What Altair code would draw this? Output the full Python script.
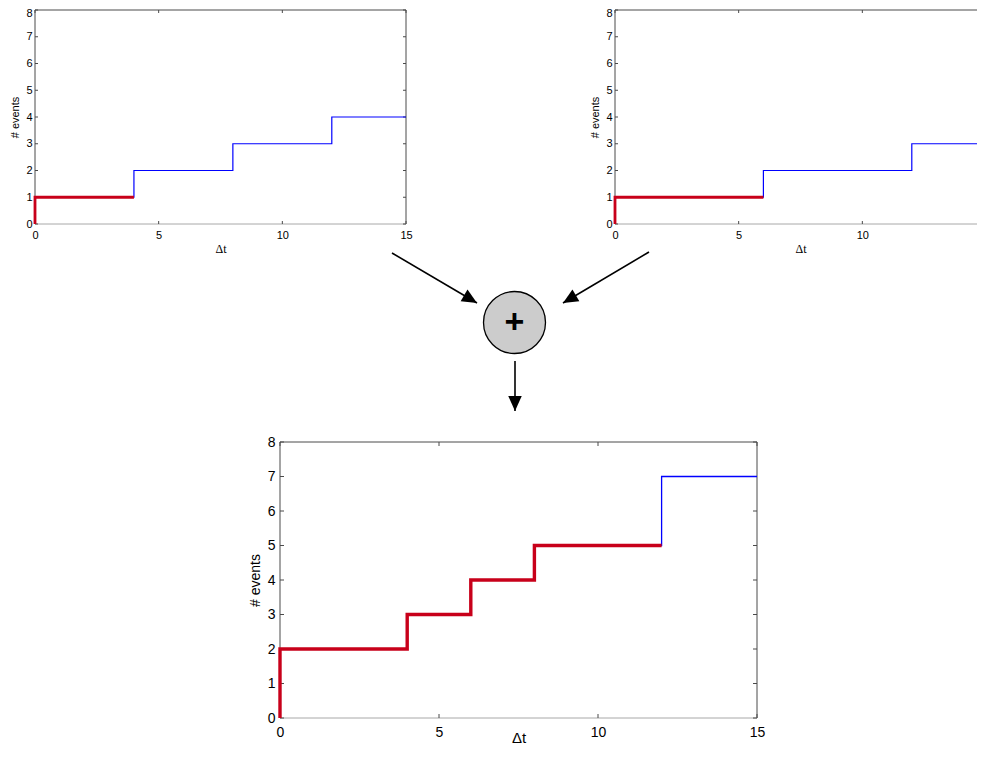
import math
import altair as alt
import pandas as pd

# ---------------- data ----------------
x_domain = [0, 15]
y_domain = [0, 8]
x_ticks = [0, 5, 10, 15]
y_ticks = [0, 1, 2, 3, 4, 5, 6, 7, 8]
x_title = "Δt"
y_title = "# events"

# top-left process
a_blue_t = [0, 0, 4, 8, 12, 15]
a_blue_n = [0, 1, 2, 3, 4, 4]
a_red_t = [0, 0, 4]
a_red_n = [0, 1, 1]
# top-right process
b_blue_t = [0, 0, 6, 12, 15]
b_blue_n = [0, 1, 2, 3, 3]
b_red_t = [0, 0, 6]
b_red_n = [0, 1, 1]
# sum (bottom)
c_blue_t = [0, 0, 4, 6, 8, 12, 15]
c_blue_n = [0, 2, 3, 4, 5, 7, 7]
c_red_t = [0, 0, 4, 6, 8, 12]
c_red_n = [0, 2, 3, 4, 5, 5]

# ---------------- layout / style ----------------
W, H = 969, 738
SANS = "Liberation Sans"
SERIF = "Liberation Serif"
BLUE = "#0000ff"
RED = "#c8001a"
DARK = "#4a4a4a"
LIGHT = "#a8a8a8"

# plot frames in chart pixels: left, right, top, bottom
FRAME_A = (27, 398, 2, 216)
FRAME_B = (607, 978, 2, 216)
FRAME_C = (272, 749, 434, 710)

STYLE_TOP = dict(fs=11, tfont=SERIF, tfs=12, ytfs=11, lpx=5, lpy=3, tpx=3, tpy=5,
                 tick=3, bw=1.2, rw=2.8, top_nudge=3.5)
STYLE_BOT = dict(fs=14, tfont=SANS, tfs=15, ytfs=14, lpx=7, lpy=5, tpx=-9, tpy=5,
                 tick=4, bw=1.3, rw=3.4, top_nudge=0)


def steps(ts, ns):
    return pd.DataFrame({"t": ts, "n": ns, "i": list(range(len(ts)))})


def panel(frame, blue_df, red_df, sty):
    x0, x1, y0, y1 = frame
    ymax_label = y_domain[1]

    def xs():
        return alt.Scale(domain=x_domain, range=[x0, x1], nice=False, zero=False)

    def ys():
        return alt.Scale(domain=y_domain, range=[y1, y0], nice=False, zero=False)

    common = dict(ticks=False, domain=False, grid=False,
                  labelFont=SANS, labelFontSize=sty["fs"], labelColor="#000",
                  labelFlush=False,
                  titleFontWeight="normal", titleColor="#000")
    xaxis = alt.Axis(orient="bottom", offset=y1 - H, values=x_ticks,
                     labelPadding=sty["lpx"], title=x_title,
                     titleFont=sty["tfont"], titleFontSize=sty["tfs"],
                     titlePadding=sty["tpx"], **common)
    yaxis = alt.Axis(orient="left", offset=-x0, values=y_ticks,
                     labelPadding=sty["lpy"], title=y_title,
                     titleFont=SANS, titleFontSize=sty["ytfs"],
                     titlePadding=sty["tpy"],
                     labelOffset={"condition": {"test": f"datum.value == {ymax_label}",
                                                "value": sty["top_nudge"]},
                                  "value": 0},
                     **common)

    xmin, xmax = x_domain
    ymin, ymax = y_domain
    frame_df = pd.DataFrame({
        "x": [xmin, xmax, xmin, xmin],
        "x2": [xmin, xmax, xmax, xmax],
        "y": [ymin, ymin, ymax, ymin],
        "y2": [ymax, ymax, ymax, ymin],
        "c": [DARK, DARK, DARK, LIGHT],
    })
    box = alt.Chart(frame_df).mark_rule(strokeWidth=1).encode(
        x=alt.X("x:Q", scale=xs(), axis=None), x2="x2:Q",
        y=alt.Y("y:Q", scale=ys(), axis=None), y2="y2:Q",
        color=alt.Color("c:N", scale=None),
    )
    L = sty["tick"]
    xt = pd.DataFrame({"v": x_ticks})
    yt = pd.DataFrame({"v": y_ticks})
    tk = dict(color=DARK, strokeWidth=1)
    t_bot = alt.Chart(xt).mark_rule(y2Offset=-L, **tk).encode(
        x=alt.X("v:Q", scale=xs(), axis=None),
        y=alt.Y(datum=ymin, scale=ys(), axis=None), y2=alt.datum(ymin))
    t_top = alt.Chart(xt).mark_rule(y2Offset=L, **tk).encode(
        x=alt.X("v:Q", scale=xs(), axis=None),
        y=alt.Y(datum=ymax, scale=ys(), axis=None), y2=alt.datum(ymax))
    t_left = alt.Chart(yt).mark_rule(x2Offset=L, **tk).encode(
        y=alt.Y("v:Q", scale=ys(), axis=None),
        x=alt.X(datum=xmin, scale=xs(), axis=None), x2=alt.datum(xmin))
    t_right = alt.Chart(yt).mark_rule(x2Offset=-L, **tk).encode(
        y=alt.Y("v:Q", scale=ys(), axis=None),
        x=alt.X(datum=xmax, scale=xs(), axis=None), x2=alt.datum(xmax))

    blue = alt.Chart(blue_df).mark_line(
        interpolate="step-after", color=BLUE, strokeWidth=sty["bw"]
    ).encode(
        x=alt.X("t:Q", scale=xs(), axis=xaxis),
        y=alt.Y("n:Q", scale=ys(), axis=yaxis),
        order="i:Q",
    )
    red = alt.Chart(red_df).mark_line(
        interpolate="step-after", color=RED, strokeWidth=sty["rw"]
    ).encode(
        x=alt.X("t:Q", scale=xs(), axis=None),
        y=alt.Y("n:Q", scale=ys(), axis=None),
        order="i:Q",
    )
    return [box, t_bot, t_top, t_left, t_right, blue, red]


layers = []
layers += panel(FRAME_A, steps(a_blue_t, a_blue_n), steps(a_red_t, a_red_n), STYLE_TOP)
layers += panel(FRAME_B, steps(b_blue_t, b_blue_n), steps(b_red_t, b_red_n), STYLE_TOP)
layers += panel(FRAME_C, steps(c_blue_t, c_blue_n), steps(c_red_t, c_red_n), STYLE_BOT)

# ---------------- diagram (arrows and "+" node), chart pixels ----------------
arrow_start_x = [384, 641, 507]
arrow_start_y = [245, 244, 353]
arrow_tip_x = [469, 555, 507]
arrow_tip_y = [295, 295, 403]
arrow_angle = [
    math.degrees(math.atan2(tx - sx, -(ty - sy))) % 360
    for sx, sy, tx, ty in zip(arrow_start_x, arrow_start_y, arrow_tip_x, arrow_tip_y)
]
arrows = pd.DataFrame({"x": arrow_start_x, "y": arrow_start_y,
                       "xt": arrow_tip_x, "yt": arrow_tip_y, "ang": arrow_angle})
node = pd.DataFrame({"cx": [506.5], "cy": [314.5], "label": ["+"]})
HEAD = "M0,0 L-0.45,1 L0.45,1 Z"

shafts = alt.Chart(arrows).mark_rule(color="#000", strokeWidth=1.6).encode(
    x=alt.X("x:Q", scale=None), y=alt.Y("y:Q", scale=None), x2="xt:Q", y2="yt:Q")
heads = alt.Chart(arrows).mark_point(
    shape=HEAD, filled=True, color="#000", size=900, opacity=1, strokeWidth=0
).encode(
    x=alt.X("xt:Q", scale=None), y=alt.Y("yt:Q", scale=None),
    angle=alt.Angle("ang:Q", scale=None))
circle = alt.Chart(node).mark_point(
    shape="circle", filled=True, fill="#cccccc", stroke="#000", strokeWidth=1.3,
    size=62 * 62, opacity=1, fillOpacity=1, strokeOpacity=1
).encode(x=alt.X("cx:Q", scale=None), y=alt.Y("cy:Q", scale=None))
plus = alt.Chart(node).mark_text(
    font=SANS, fontSize=34, fontWeight="bold", align="center", baseline="middle",
    color="#000"
).encode(x=alt.X("cx:Q", scale=None), y=alt.Y("cy:Q", scale=None), text="label:N")

layers += [shafts, heads, circle, plus]

chart = alt.layer(*layers).resolve_scale(
    x="independent", y="independent"
).properties(
    width=W, height=H, padding=0,
    autosize=alt.AutoSizeParams(type="none"),
).configure_view(stroke=None)

chart.save("out.html", embed_options={"renderer": "svg", "actions": False})
